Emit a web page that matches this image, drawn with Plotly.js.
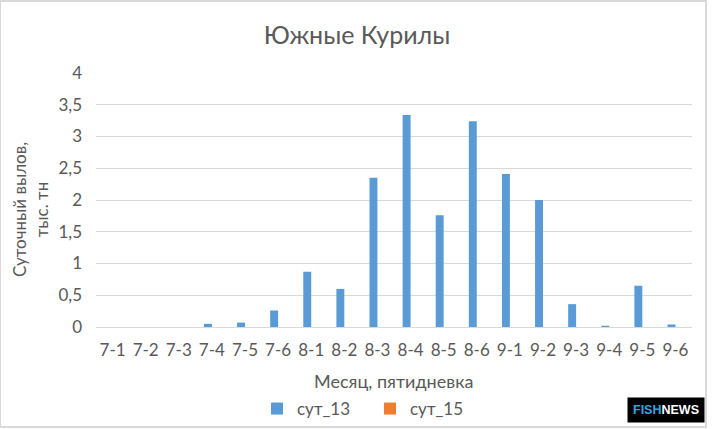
<!DOCTYPE html>
<html>
<head>
<meta charset="utf-8">
<script src="https://cdn.plot.ly/plotly-3.0.1.min.js"></script>
<style>html,body{margin:0;padding:0;background:#fff;}#chart{width:714px;height:429px;}</style>
</head>
<body>
<div id="chart"></div>
<script>
const categories = ["7-1","7-2","7-3","7-4","7-5","7-6","8-1","8-2","8-3","8-4","8-5","8-6","9-1","9-2","9-3","9-4","9-5","9-6"];
const sut13 = [0,0,0,0.05,0.07,0.26,0.87,0.60,2.35,3.34,1.76,3.24,2.41,2.00,0.36,0.02,0.65,0.04];
const sut15 = [0,0,0,0,0,0,0,0,0,0,0,0,0,0,0,0,0,0];
const seriesNames = ["сут_13","сут_15"];
const yTickVals = [0,0.5,1,1.5,2,2.5,3,3.5,4];
const yTickText = ["0","0,5","1","1,5","2","2,5","3","3,5","4"];

const FONT = "Lato, 'Open Sans', sans-serif";
const GREY = "#595959";

const traces = [
  {type:"bar", name:seriesNames[0], x:categories, y:sut13, marker:{color:"#5b9bd5"}},
  {type:"bar", name:seriesNames[1], x:categories, y:sut15, marker:{color:"#ed7d31"}}
];

const layout = {
  width:714, height:429,
  margin:{l:96, r:22, t:73, b:102},
  paper_bgcolor:"#fff", plot_bgcolor:"#fff",
  font:{family:FONT, color:GREY, size:17},
  barmode:"group", bargap:0.52, bargroupgap:0,
  title:{text:"Южные Курилы", font:{size:25, color:GREY, family:FONT}, x:0.5, xref:"container", y:1-35/429, yref:"container", yanchor:"middle"},
  xaxis:{type:"category", tickfont:{size:17,color:GREY}, showgrid:false, showline:true, linecolor:"#d9d9d9", linewidth:1, ticks:"", zeroline:false, ticklabelstandoff:8, fixedrange:true},
  yaxis:{range:[0,4], tickvals:yTickVals, ticktext:yTickText, tickfont:{size:17,color:GREY}, showgrid:true, gridcolor:"#d9d9d9", gridwidth:1, zeroline:false, showline:false, ticks:"", ticklabelstandoff:13, fixedrange:true},
  showlegend:true,
  legend:{orientation:"h", x:257/714, xanchor:"left", xref:"container", y:(429-409)/429, yref:"container", yanchor:"middle", font:{size:17,color:GREY}, itemwidth:30, entrywidth:68, bgcolor:"rgba(0,0,0,0)"},
  annotations:[
    {text:"Суточный вылов,<br>тыс. тн", xref:"paper", yref:"paper", x:(31-96)/596, y:(327-210)/254, xanchor:"center", yanchor:"middle", textangle:-90, showarrow:false, font:{size:17,color:GREY,family:FONT}},
    {text:"Месяц, пятидневка", xref:"paper", yref:"paper", x:(393-96)/596, y:(327-381)/254, xanchor:"center", yanchor:"middle", showarrow:false, font:{size:18,color:GREY,family:FONT}},
    {text:"<b><span style='color:#2ea7e0'>FISH</span><span style='color:#ffffff'>NEWS</span></b>", xref:"paper", yref:"paper", x:(666-96)/596, y:(327-410)/254, xanchor:"center", yanchor:"middle", showarrow:false, bgcolor:"#000000", borderpad:5, font:{size:12.5,family:"'Liberation Sans', Arial, sans-serif",color:"#fff"}}
  ],
  shapes:[
    {type:"rect", xref:"paper", yref:"paper", x0:-96/596, x1:1+14/596, y0:-100/254, y1:1+72/254, line:{color:"#d9d9d9", width:2}, fillcolor:"rgba(0,0,0,0)"}
  ]
};

Plotly.newPlot("chart", traces, layout, {displayModeBar:false, staticPlot:true});
</script>
</body>
</html>
